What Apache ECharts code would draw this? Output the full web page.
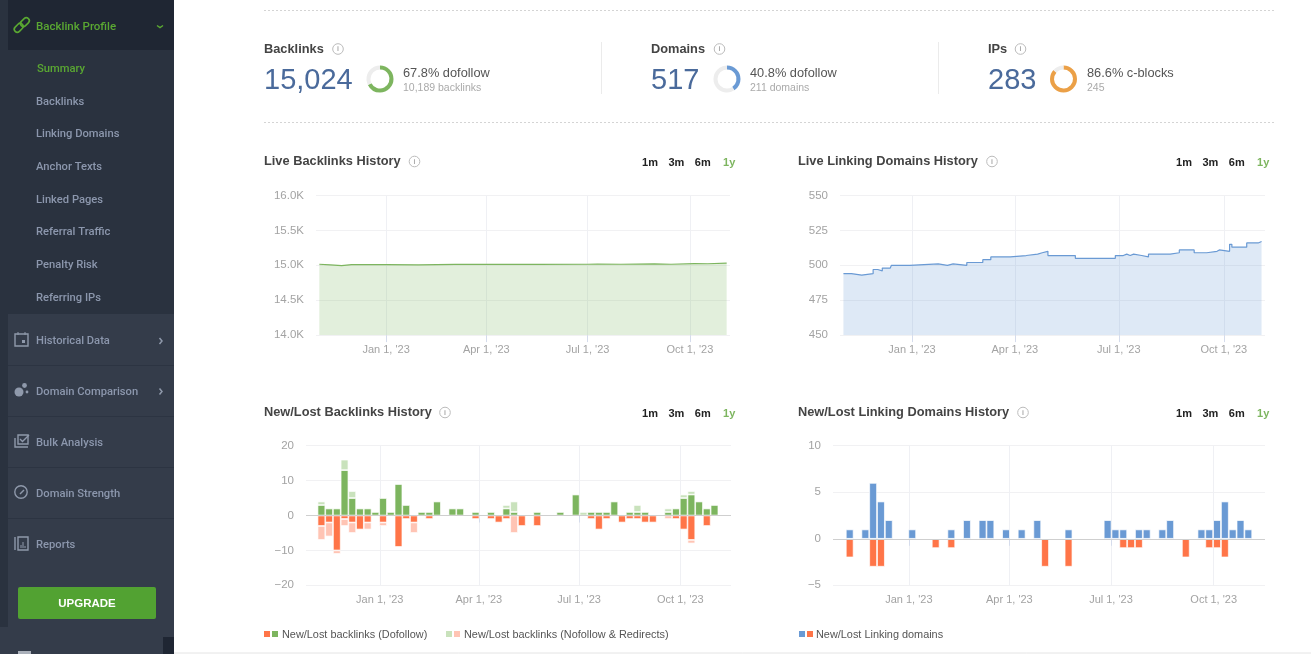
<!DOCTYPE html>
<html>
<head>
<meta charset="utf-8">
<script src="https://cdn.jsdelivr.net/npm/echarts@6/dist/echarts.min.js"></script>
<style>
  html, body { margin: 0; padding: 0; background: #fff; overflow: hidden; }
  #main { width: 1311px; height: 654px; }
</style>
</head>
<body>
<div id="main"></div>
<script>
// data
var tickDates = ['2023-01-01', '2023-04-01', '2023-07-01', '2023-10-01'];
var tickLabels = ["Jan 1, '23", "Apr 1, '23", "Jul 1, '23", "Oct 1, '23"];

var backlinkDates = ['2022-11-02', '2022-11-12', '2022-11-22', '2022-12-01', '2023-01-01', '2023-01-30', '2023-03-04', '2023-04-03', '2023-05-17', '2023-07-01', '2023-07-10', '2023-07-31', '2023-08-30', '2023-09-14', '2023-10-05', '2023-10-17', '2023-11-03'];
var backlinkValues = [15015, 15005, 14995, 15010, 15010, 15005, 15012, 15015, 15012, 15015, 15018, 15015, 15020, 15015, 15024, 15022, 15030];

var domainDates = ['2022-11-02', '2022-11-09', '2022-11-18', '2022-11-28', '2022-12-02', '2022-12-06', '2022-12-13', '2022-12-14', '2022-12-30', '2023-01-24', '2023-02-01', '2023-02-06', '2023-02-18', '2023-03-04', '2023-03-11', '2023-03-28', '2023-04-11', '2023-04-21', '2023-04-25', '2023-04-30', '2023-05-24', '2023-06-28', '2023-07-05', '2023-07-08', '2023-07-11', '2023-07-14', '2023-07-21', '2023-07-27', '2023-08-15', '2023-08-23', '2023-09-05', '2023-09-16', '2023-09-25', '2023-09-27', '2023-10-06', '2023-10-08', '2023-10-21', '2023-10-31', '2023-11-03'];
var domainValues = [494, 493, 494, 497, 496, 498, 499, 500, 501, 500, 501, 500, 502, 504, 506, 507, 508, 509, 510, 507, 505, 507, 508, 507, 508, 507, 506, 508, 509, 511, 509, 510, 511, 510, 515, 513, 516, 517, 517];

var weekDates = ['2022-11-09', '2022-11-16', '2022-11-23', '2022-11-30', '2022-12-07', '2022-12-14', '2022-12-21', '2022-12-28',
  '2023-01-04', '2023-01-11', '2023-01-18', '2023-01-25', '2023-02-01', '2023-02-08', '2023-02-15', '2023-02-22',
  '2023-03-01', '2023-03-08', '2023-03-15', '2023-03-22', '2023-03-29', '2023-04-05', '2023-04-12', '2023-04-19', '2023-04-26',
  '2023-05-03', '2023-05-10', '2023-05-17', '2023-05-24', '2023-05-31', '2023-06-07', '2023-06-14', '2023-06-21', '2023-06-28',
  '2023-07-05', '2023-07-12', '2023-07-19', '2023-07-26', '2023-08-02', '2023-08-09', '2023-08-16', '2023-08-23', '2023-08-30',
  '2023-09-06', '2023-09-13', '2023-09-20', '2023-09-27', '2023-10-04', '2023-10-11', '2023-10-18', '2023-10-25', '2023-11-01'];

var dofollowNew = [3,2,2,13,5,2,2,1,5,1, 9,3,0,1,1,4,0,2,2,0, 1,0,1,0,2,1,0,0,1,0, 0,1,0,6,0,1,1,1,4,0, 1,1,1,0,0,1,2,5,6,4, 2,3];
var nofollowNew = [1,0,0,3,2,0,0,0,0,0, 0,0,0,0,0,0,0,0,0,0, 0,0,0,0,1,3,0,0,0,0, 0,0,0,0,1,0,0,0,0,0, 0,2,0,0,0,1,0,1,1,0, 0,0];
var dofollowLost = [-3,-2,-10,-1,-2,-4,-2,0,-2,0, -9,-1,-2,0,-1,0,0,0,0,0, -1,0,-1,-2,-1,0,-3,0,-3,0, 0,0,0,0,0,-1,-4,-1,0,-2, -1,-1,-2,-2,0,0,-1,-4,-7,0, -3,0];
var nofollowLost = [-4,-4,-1,-2,-3,0,-2,0,-1,0, 0,0,-3,0,0,0,0,0,0,0, 0,0,0,0,0,-5,0,0,0,0, 0,0,0,0,0,0,0,0,0,0, 0,0,0,0,0,-1,0,0,-1,0, 0,0];
var domainsNew = [1,0,1,6,4,2,0,0,1,0, 0,0,0,1,0,2,0,2,2,0, 1,0,1,0,2,0,0,0,1,0, 0,0,0,2,1,1,0,1,1,0, 1,2,0,0,0,1,1,2,4,1, 2,1];
var domainsLost = [-2,0,0,-3,-3,0,0,0,0,0, 0,-1,0,-1,0,0,0,0,0,0, 0,0,0,0,0,-3,0,0,-3,0, 0,0,0,0,0,-1,-1,-1,0,0, 0,0,0,-2,0,0,-1,-1,-2,0, 0,0];

var donutShares = [67.8, 40.8, 86.6];
var subMenu = ['Summary', 'Backlinks', 'Linking Domains', 'Anchor Texts', 'Linked Pages', 'Referral Traffic', 'Penalty Risk', 'Referring IPs'];
var mainMenu = ['Historical Data', 'Domain Comparison', 'Bulk Analysis', 'Domain Strength', 'Reports'];

var GREEN = '#7db55f', PALE_GREEN = '#c9e2bc', ORANGE = '#ff7548', PINK = '#ffc4b4', BLUE = '#6a9ad4', AMBER = '#eba047';
var SANS = 'Liberation Sans';

function zip(xs, ys) {
  return xs.map(function (x, i) { return [x, ys[i] === 0 ? null : ys[i]]; });
}

var tickTimes = tickDates.map(function (d) { return +echarts.time.parse(d); });

function timeAxis(gridIndex, min, max) {
  return {
    type: 'time',
    gridIndex: gridIndex,
    min: min,
    max: max,
    splitNumber: 4,
    axisLine: { show: false },
    axisTick: { length: 7, lineStyle: { color: '#d5dcec' } },
    splitLine: { show: true, showMinLine: false, showMaxLine: false, lineStyle: { color: '#eff0f4' } },
    axisLabel: {
      margin: 9,
      color: '#a3a3a3',
      fontSize: 11,
      fontFamily: SANS,
      hideOverlap: false,
      showMinLabel: false,
      showMaxLabel: false,
      formatter: function (v) {
        var i = tickTimes.indexOf(v);
        return i < 0 ? '' : tickLabels[i];
      }
    }
  };
}

function valueAxis(gridIndex, min, max, interval, fmt) {
  return {
    type: 'value',
    gridIndex: gridIndex,
    min: min,
    max: max,
    interval: interval,
    axisLine: { show: false },
    axisTick: { show: false },
    splitLine: { lineStyle: { color: '#f1f1f3' } },
    axisLabel: { color: '#a3a3a3', fontSize: 11.5, fontFamily: SANS, margin: 12, padding: [2, 0, 0, 0], formatter: fmt }
  };
}

function minusFmt(v) { return String(v).replace('-', '\u2212'); }

function lineSeries(axisIndex, dates, values, color, step) {
  return {
    type: 'line',
    xAxisIndex: axisIndex,
    yAxisIndex: axisIndex,
    data: zip(dates, values),
    step: step,
    symbol: 'none',
    lineStyle: { color: color, width: 1.2 },
    areaStyle: { color: color, opacity: 0.22, origin: 'start' },
    silent: true
  };
}

function barSeries(axisIndex, stack, values, color) {
  return {
    type: 'bar',
    xAxisIndex: axisIndex,
    yAxisIndex: axisIndex,
    stack: stack,
    data: zip(weekDates, values),
    barWidth: 7.7,
    itemStyle: { color: color, borderColor: '#fff', borderWidth: 0.7 },
    silent: true
  };
}

function zeroLine() {
  return {
    silent: true,
    symbol: 'none',
    label: { show: false },
    lineStyle: { color: '#cfcfcf', width: 1, type: 'solid' },
    data: [{ yAxis: 0 }]
  };
}

function donut(cx, share, color) {
  return {
    type: 'pie',
    center: [cx, 79],
    radius: [9.5, 13.5],
    startAngle: 90,
    silent: true,
    label: { show: false },
    labelLine: { show: false },
    data: [
      { value: share, itemStyle: { color: color } },
      { value: 100 - share, itemStyle: { color: '#ededed' } }
    ]
  };
}

// page furniture, all drawn as graphic elements
var g = [];
function rect(x, y, w, h, fill, r) {
  g.push({ type: 'rect', silent: true, shape: { x: x, y: y, width: w, height: h, r: r || 0 }, style: { fill: fill } });
}
function line(x1, y1, x2, y2, color, dash, width) {
  g.push({ type: 'line', silent: true, shape: { x1: x1, y1: y1, x2: x2, y2: y2 }, style: { stroke: color, lineDash: dash || null, lineWidth: width || 1 } });
}
function text(x, y, s, font, fill, align) {
  g.push({ type: 'text', silent: true, style: { x: x, y: y + 1, text: s, font: font, fill: fill, align: align || 'left', verticalAlign: 'middle' } });
}
function poly(points, color, width) {
  g.push({ type: 'polyline', silent: true, shape: { points: points }, style: { stroke: color, fill: null, lineWidth: width || 1.5 } });
}
function ring(cx, cy, r, color, width) {
  g.push({ type: 'circle', silent: true, shape: { cx: cx, cy: cy, r: r }, style: { fill: null, stroke: color, lineWidth: width || 1.5 } });
}
function dot(cx, cy, r, color) {
  g.push({ type: 'circle', silent: true, shape: { cx: cx, cy: cy, r: r }, style: { fill: color } });
}
function info(cx, cy) {
  ring(cx, cy, 5.3, '#bbb', 1);
  text(cx, cy - 0.5, 'i', 'bold 7px ' + SANS, '#aaa', 'center');
}

// sidebar
var ITEM = '#8c97ad', LIME = '#5aa832', ICON = '#8f99ab';
rect(0, 0, 174, 654, '#343c4a');
rect(0, 0, 8, 627, '#2a323f');
rect(8, 0, 166, 50, '#1f2633');
rect(8, 50, 166, 264, '#2a323f');
rect(163, 637, 11, 17, '#1f2633');
rect(18, 651, 13, 3, '#aab0ba');
text(36, 26, 'Backlink Profile', '500 11.5px Roboto', LIME);
poly([[157, 25.5], [160, 27.5], [163, 25.5]], LIME);
// link icon
g.push({ type: 'rect', silent: true, rotation: Math.PI / 4, originX: 18, originY: 28.5, shape: { x: 14, y: 25.5, width: 10, height: 6, r: 3 }, style: { fill: null, stroke: LIME, lineWidth: 1.6 } });
g.push({ type: 'rect', silent: true, rotation: Math.PI / 4, originX: 24.5, originY: 22.5, shape: { x: 20, y: 19.5, width: 10, height: 6, r: 3 }, style: { fill: null, stroke: LIME, lineWidth: 1.6 } });

subMenu.forEach(function (name, i) {
  text(i === 0 ? 37 : 36, [68, 101, 133.5, 166, 199, 231.5, 264, 297][i], name, '500 11.2px Roboto', i === 0 ? LIME : ITEM);
});
mainMenu.forEach(function (name, i) {
  var y = [340, 391, 442, 493, 544][i];
  text(36, y, name, '500 11.2px Roboto', ITEM);
  if (i < 4) line(8, y + 25.5, 174, y + 25.5, '#2c3442');
});
poly([[159.5, 338], [162, 341], [159.5, 344]], ICON);
poly([[159.5, 388.5], [162, 391.5], [159.5, 394.5]], ICON);
// historical data icon
g.push({ type: 'rect', silent: true, shape: { x: 15, y: 334, width: 13, height: 12 }, style: { fill: null, stroke: ICON, lineWidth: 1.4 } });
rect(22, 340, 3, 3, ICON);
line(18, 332, 18, 335, ICON);
line(25, 332, 25, 335, ICON);
// comparison icon
dot(19, 392, 4.5, ICON);
dot(24.5, 385.5, 2.4, ICON);
dot(27, 392, 1.4, ICON);
// bulk icon
poly([[15, 438], [15, 447], [28, 447]], ICON, 1.4);
g.push({ type: 'rect', silent: true, shape: { x: 18, y: 435, width: 10, height: 9 }, style: { fill: null, stroke: ICON, lineWidth: 1.4 } });
poly([[20, 439], [22.5, 441.5], [29, 435]], ICON, 1.4);
// strength icon
ring(21, 492, 6.2, ICON, 1.4);
line(20, 494, 24, 490, ICON, null, 1.4);
// reports icon
line(15, 537, 15, 550, ICON, null, 1.4);
g.push({ type: 'rect', silent: true, shape: { x: 18, y: 537, width: 10, height: 13 }, style: { fill: null, stroke: ICON, lineWidth: 1.4 } });
line(21, 548, 21, 545, ICON);
line(23, 548, 23, 542, ICON);
line(25, 548, 25, 546, ICON);
rect(18, 587, 138, 32, '#52a232', 2);
text(87, 603, 'UPGRADE', 'bold 11.5px ' + SANS, '#fff', 'center');

// header block
line(264, 10.5, 1274, 10.5, '#d4d4d4', [2, 2]);
line(264, 122.5, 1274, 122.5, '#d4d4d4', [2, 2]);
line(601.5, 42, 601.5, 94, '#ebebeb');
line(938.5, 42, 938.5, 94, '#ebebeb');
var H_BOLD = 'bold 12.8px ' + SANS, BIG = '29px ' + SANS, DARK = '#444', NUM = '#4a6a9b';
var SUB1 = '12.8px ' + SANS, SUB2 = '10.5px ' + SANS;
text(264, 48.5, 'Backlinks', H_BOLD, DARK); info(338, 49);
text(264, 79.5, '15,024', BIG, NUM);
text(403, 72, '67.8% dofollow', SUB1, '#555');
text(403, 87.5, '10,189 backlinks', SUB2, '#aaa');
text(651, 48.5, 'Domains', H_BOLD, DARK); info(719.5, 49);
text(651, 79.5, '517', BIG, NUM);
text(750, 72, '40.8% dofollow', SUB1, '#555');
text(750, 87.5, '211 domains', SUB2, '#aaa');
text(988, 48.5, 'IPs', H_BOLD, DARK); info(1020.5, 49);
text(988, 79.5, '283', BIG, NUM);
text(1087, 72, '86.6% c-blocks', SUB1, '#555');
text(1087, 87.5, '245', SUB2, '#aaa');

// chart headers
function header(x, y, title, infoX, rangeX) {
  text(x, y, title, H_BOLD, DARK);
  info(infoX, y + 1);
  ['1m', '3m', '6m', '1y'].forEach(function (r, i) {
    text(rangeX + i * 26.4, y + 1, r, 'bold 11px ' + SANS, i === 3 ? GREEN : '#222', 'center');
  });
}
header(264, 160.5, 'Live Backlinks History', 414.5, 650);
header(798, 160.5, 'Live Linking Domains History', 992, 1184);
header(264, 411.5, 'New/Lost Backlinks History', 445, 650);
header(798, 411.5, 'New/Lost Linking Domains History', 1023, 1184);

// legends
var LEG = '10.9px ' + SANS;
rect(264, 631, 6, 6, ORANGE); rect(272, 631, 6, 6, GREEN);
text(282, 634, 'New/Lost backlinks (Dofollow)', LEG, '#555');
rect(446, 631, 6, 6, PALE_GREEN); rect(454, 631, 6, 6, PINK);
text(464, 634, 'New/Lost backlinks (Nofollow & Redirects)', LEG, '#555');
rect(799, 631, 6, 6, BLUE); rect(807, 631, 6, 6, ORANGE);
text(816, 634, 'New/Lost Linking domains', LEG, '#555');
line(174, 653, 1311, 653, '#e4e4e4');

var chart = echarts.init(document.getElementById('main'));
var backlinkBars = barSeries(2, 'links', dofollowNew, GREEN);
backlinkBars.markLine = zeroLine();
var domainBars = barSeries(3, 'domains', domainsNew, BLUE);
domainBars.markLine = zeroLine();

// ECharts 6 widens a bar axis by half a bar each side, so the bar axes are set a bit tighter
var option = {
  animation: false,
  grid: [
    { left: 316, top: 195.5, width: 414, height: 139.6 },
    { left: 840, top: 195.5, width: 425, height: 139.6 },
    { left: 306, top: 445.7, width: 425, height: 139.6 },
    { left: 833, top: 445.7, width: 432, height: 139.6 }
  ],
  xAxis: [
    timeAxis(0, '2022-10-30', '2023-11-06'),
    timeAxis(1, '2022-10-30', '2023-11-06'),
    timeAxis(2, '2022-10-29 12:00:00', '2023-11-12 12:00:00'),
    timeAxis(3, '2022-10-28 12:00:00', '2023-11-12 12:00:00')
  ],
  yAxis: [
    valueAxis(0, 14000, 16000, 500, function (v) { return (v / 1000).toFixed(1) + 'K'; }),
    valueAxis(1, 450, 550, 25),
    valueAxis(2, -20, 20, 10, minusFmt),
    valueAxis(3, -5, 10, 5, minusFmt)
  ],
  series: [
    lineSeries(0, backlinkDates, backlinkValues, GREEN, false),
    lineSeries(1, domainDates, domainValues, BLUE, 'end'),
    backlinkBars,
    barSeries(2, 'links', nofollowNew, PALE_GREEN),
    barSeries(2, 'links', dofollowLost, ORANGE),
    barSeries(2, 'links', nofollowLost, PINK),
    domainBars,
    barSeries(3, 'domains', domainsLost, ORANGE),
    donut(380, donutShares[0], GREEN),
    donut(727, donutShares[1], BLUE),
    donut(1063.5, donutShares[2], AMBER)
  ],
  graphic: { elements: g }
};

option && chart.setOption(option);
</script>
</body>
</html>
